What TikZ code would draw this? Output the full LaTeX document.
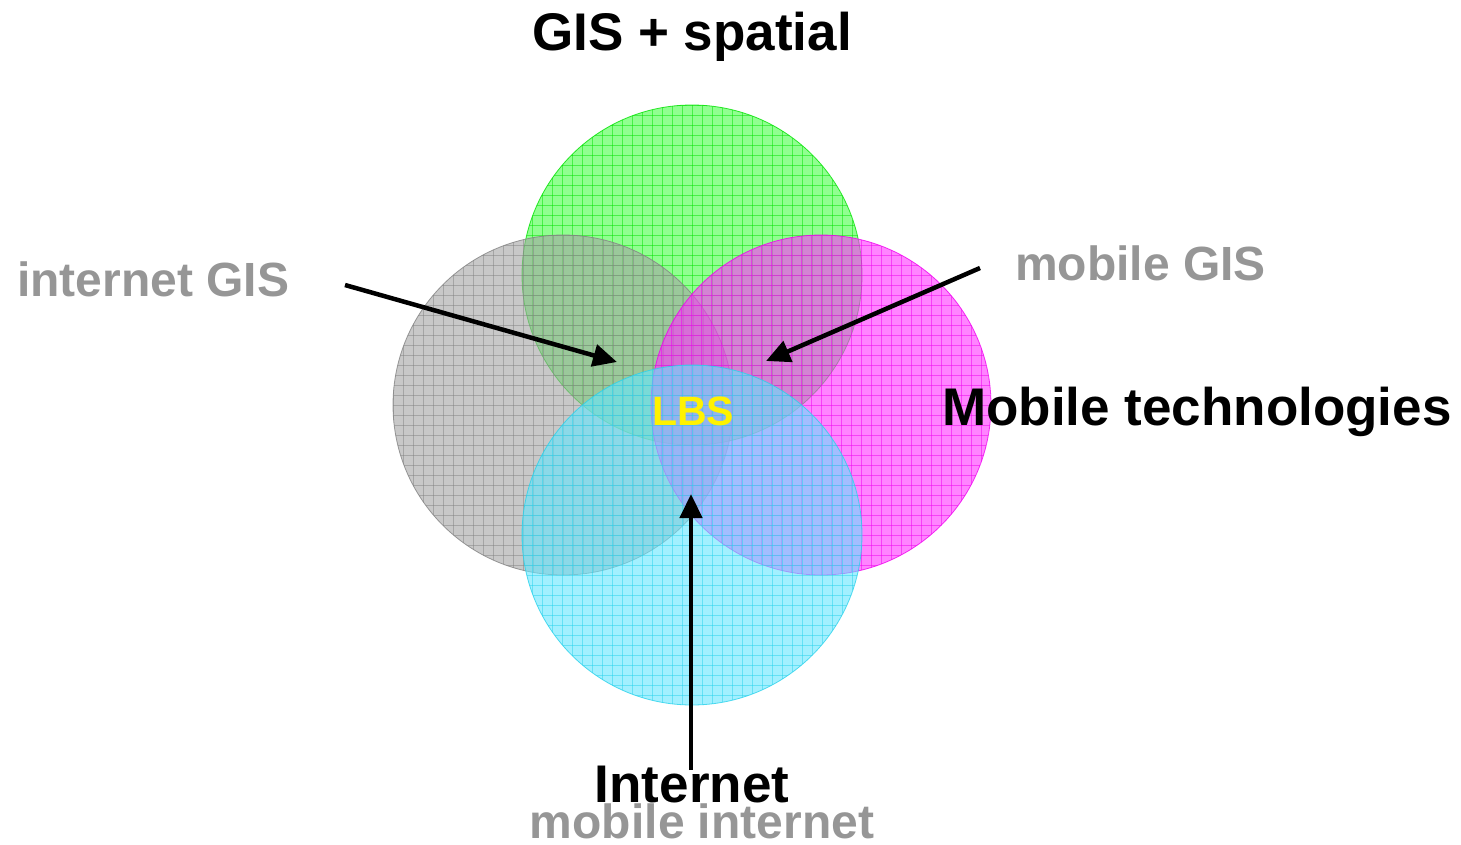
\documentclass[tikz,border=0pt]{standalone}
\usepackage{fontspec}
\setmainfont{Liberation Sans}
\usetikzlibrary{arrows.meta}
\definecolor{grayfill}{RGB}{163,163,163}
\definecolor{grayline}{RGB}{130,130,130}
\definecolor{greenfill}{RGB}{70,255,70}
\definecolor{greenline}{RGB}{0,225,0}
\definecolor{magfill}{RGB}{255,50,255}
\definecolor{magline}{RGB}{240,0,240}
\definecolor{cyanfill}{RGB}{100,230,255}
\definecolor{cyanline}{RGB}{40,210,235}
\definecolor{labelgray}{RGB}{150,150,150}
\newcommand{\vennring}[5]{%
  \begin{scope}
    \clip (#2,#3) circle[radius=170];
    \fill[#4, fill opacity=0.6] (#2,#3) circle[radius=170];
    \foreach \d in {-170,-160,...,170}{
      \draw[#5, line width=0.9pt, draw opacity=0.5] ({#2+\d},{#3-171}) -- ({#2+\d},{#3+171});
      \draw[#5, line width=0.9pt, draw opacity=0.5] ({#2-171},{#3+\d}) -- ({#2+171},{#3+\d});
    }
  \end{scope}
  \node[ring, draw=#5] (#1) at (#2,#3) {};
}
\begin{document}
\begin{tikzpicture}[x=1pt,y=-1pt,
  ring/.style={circle, line width=0.8pt, minimum size=340pt, inner sep=0pt, outer sep=0pt, draw opacity=0.8},
  bigtxt/.style={font=\fontsize{53}{60}\bfseries\selectfont, inner sep=0pt},
  midtxt/.style={font=\fontsize{48}{54}\bfseries\selectfont, inner sep=0pt, text=labelgray},
  pointer/.style={line width=4.5pt, -{Triangle[length=24pt,width=22pt]}}]
\useasboundingbox (0,0) rectangle (1461,844);
\vennring{spatial}{692}{275}{greenfill}{greenline}
\vennring{gis}{563}{405}{grayfill}{grayline}
\vennring{mobile}{821}{405}{magfill}{magline}
\vennring{internetc}{692}{535}{cyanfill}{cyanline}

\node[bigtxt, anchor=base] (title) at (692,50) {GIS + spatial};
\node[bigtxt, anchor=base west] (mobtech) at (942,425) {Mobile technologies};
\node[bigtxt, anchor=base] (internet) at (692,802) {Internet};
\node[midtxt, anchor=base west] (igis) at (17,296) {internet GIS};
\node[midtxt, anchor=base west] (mgis) at (1015,280) {mobile GIS};
\node[midtxt, anchor=base] (minternet) at (702,838) {mobile internet};
\node[font=\fontsize{41}{46}\bfseries\selectfont, text=yellow, inner sep=0pt] (lbs) at (693,411) {LBS};

\coordinate (a1s) at (345,285);
\coordinate (a1e) at (617,362);
\coordinate (a2s) at (980,268);
\coordinate (a2e) at (766,361);
\coordinate (a3s) at (691,770);
\coordinate (a3e) at (691,494);
\draw[pointer] (a1s) -- (a1e);
\draw[pointer] (a2s) -- (a2e);
\draw[pointer] (a3s) -- (a3e);
\end{tikzpicture}
\end{document}
